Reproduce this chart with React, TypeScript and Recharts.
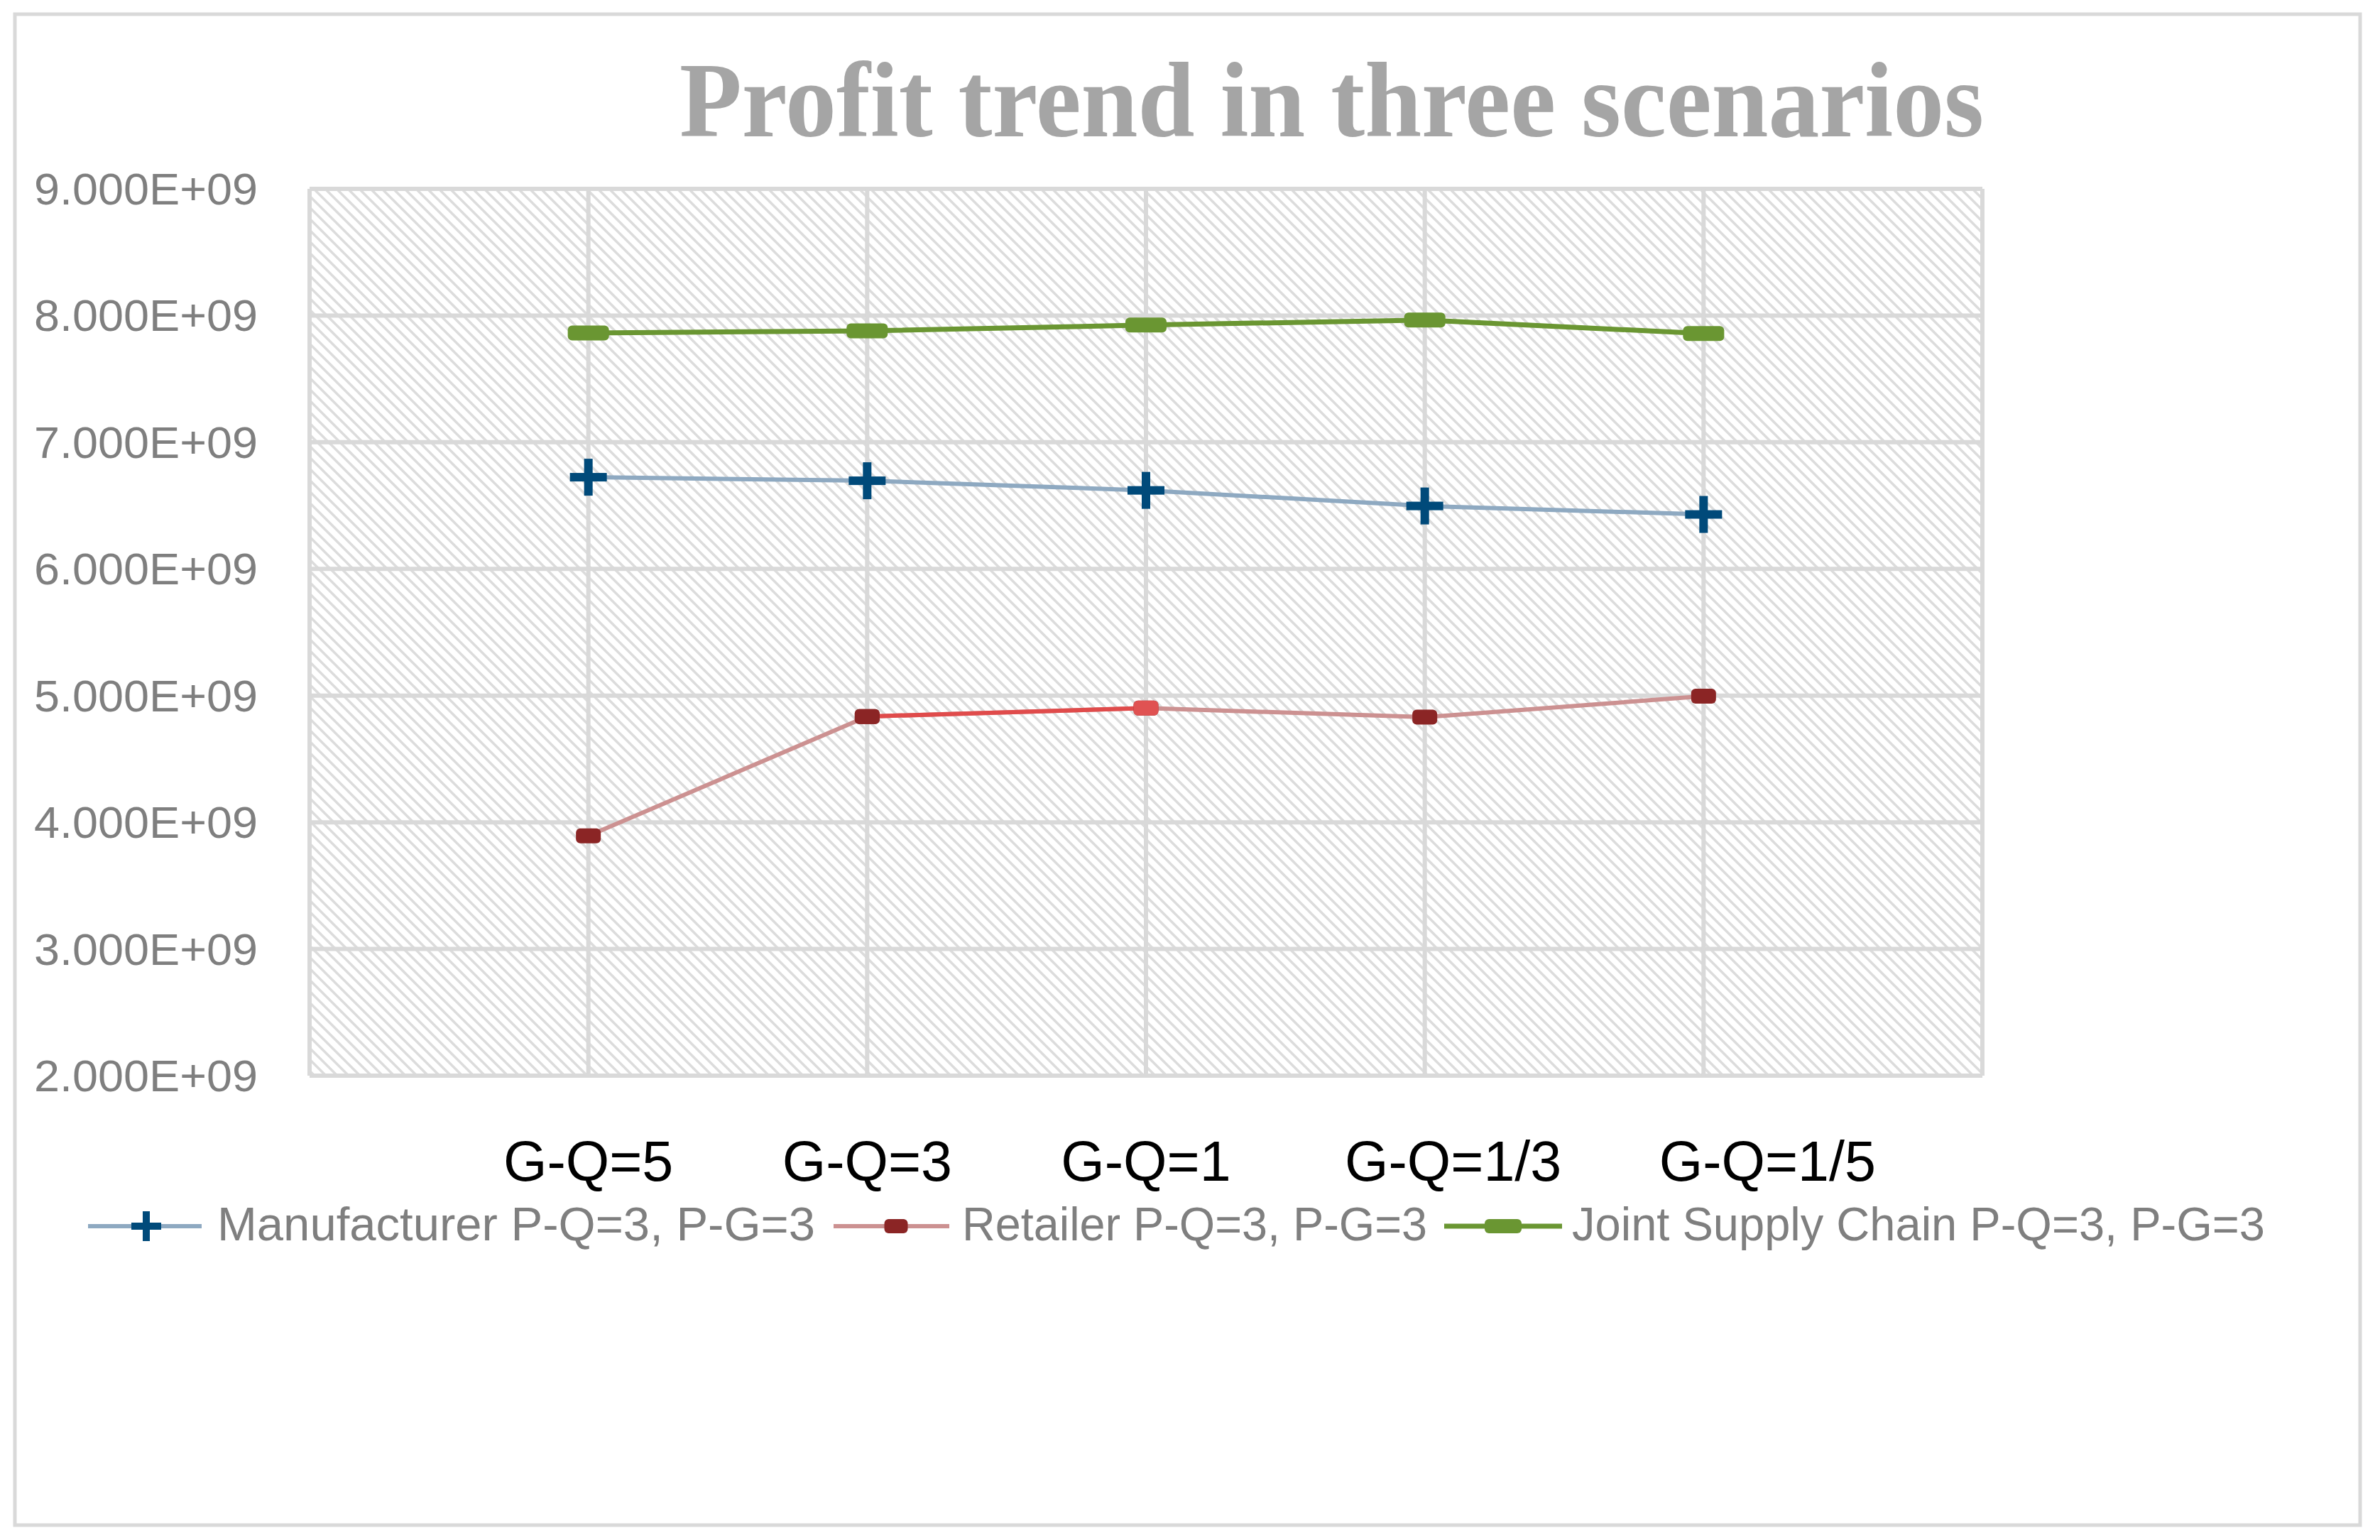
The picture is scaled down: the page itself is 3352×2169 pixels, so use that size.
import React from 'react'
import { LineChart, Line, XAxis, YAxis, CartesianGrid } from 'recharts'

const CATEGORIES = ['G-Q=5', 'G-Q=3', 'G-Q=1', 'G-Q=1/3', 'G-Q=1/5']
const MANUFACTURER = [6.724e9, 6.696e9, 6.62e9, 6.497e9, 6.43e9]
const RETAILER = [3.893e9, 4.835e9, 4.902e9, 4.83e9, 4.995e9]
const JOINT = [7.862e9, 7.879e9, 7.925e9, 7.964e9, 7.858e9]
const Y_TICKS = [2e9, 3e9, 4e9, 5e9, 6e9, 7e9, 8e9, 9e9]
const X_TICKS = [0, 1, 2, 3, 4, 5, 6]
const SERIES_NAMES = [
  'Manufacturer P-Q=3, P-G=3',
  'Retailer P-Q=3, P-G=3',
  'Joint Supply Chain P-Q=3, P-G=3'
]

const W = 3352
const H = 2169
const SANS = '"Liberation Sans", Arial, sans-serif'
const SERIF = '"Liberation Serif", "Times New Roman", serif'

const C_MAN_LINE = '#8EA9C1'
const C_MAN_MARK = '#004A7A'
const C_RET_LINE = '#CC9191'
const C_RET_MARK = '#8B2525'
const C_RET_HI = '#E04B4B'
const C_JOINT = '#6A9632'

// excel nudged the last two category labels to the right
const X_LABEL_SHIFT = [0, 0, 0, 40, 90]

// retailer segment 2->3 is drawn in a brighter red in the original
const retailerHi = RETAILER.map((v, i) => (i === 1 || i === 2 ? v : null))

const data = CATEGORIES.map((name, i) => ({
  x: i + 1,
  name,
  manufacturer: MANUFACTURER[i],
  retailer: RETAILER[i],
  retailerHi: retailerHi[i],
  joint: JOINT[i]
}))

const fmtY = (v: number) => `${(v / 1e9).toFixed(3)}E+09`

const YTick = (props: any) => {
  const { x, y, payload } = props
  return (
    <text
      x={x - 388}
      y={y + 22}
      textAnchor="start"
      fontSize={63}
      fill="#7F7F7F"
      fontFamily={SANS}
      textLength={315}
      lengthAdjust="spacingAndGlyphs"
    >
      {fmtY(payload.value)}
    </text>
  )
}

const XTick = (props: any) => {
  const { x, y, payload } = props
  const idx = payload.value - 1
  if (idx < 0 || idx >= CATEGORIES.length) return <g />
  return (
    <text x={x + X_LABEL_SHIFT[idx]} y={y + 148} textAnchor="middle" fontSize={79} fill="#000" fontFamily={SANS}>
      {CATEGORIES[idx]}
    </text>
  )
}

const plus = (cx: number, cy: number, size: number, thick: number, key?: string) => (
  <g key={key}>
    <rect x={cx - size / 2} y={cy - thick / 2} width={size} height={thick} fill={C_MAN_MARK} />
    <rect x={cx - thick / 2} y={cy - size / 2} width={thick} height={size} fill={C_MAN_MARK} />
  </g>
)

const roundRect = (cx: number, cy: number, w: number, h: number, fill: string, key?: string) => (
  <rect key={key} x={cx - w / 2} y={cy - h / 2} width={w} height={h} rx={6} ry={6} fill={fill} />
)

const ManDot = (props: any) => {
  const { cx, cy, index } = props
  if (cx == null || cy == null) return <g key={`m-${index}`} />
  return plus(cx, cy, 52, 12, `m-${index}`)
}

const RetDot = (props: any) => {
  const { cx, cy, index } = props
  if (cx == null || cy == null) return <g key={`r-${index}`} />
  return roundRect(cx, cy, 35, 21, C_RET_MARK, `r-${index}`)
}

const RetHiDot = (props: any) => {
  const { cx, cy, index } = props
  if (cx == null || cy == null || (index !== 1 && index !== 2)) return <g key={`rh-${index}`} />
  return roundRect(cx, cy, 35, 21, index === 2 ? '#E05252' : C_RET_MARK, `rh-${index}`)
}

const JointDot = (props: any) => {
  const { cx, cy, index } = props
  if (cx == null || cy == null) return <g key={`j-${index}`} />
  return roundRect(cx, cy, 58, 21, C_JOINT, `j-${index}`)
}

export default function App() {
  const legendY = 1727
  const legendBase = 1747
  return (
    <div style={{ position: 'absolute', left: 0, top: 0, width: W, height: H, background: '#fff' }}>
      <LineChart
        width={W}
        height={H}
        data={data}
        margin={{ top: 266, right: 560, bottom: 554, left: 36 }}
      >
        <defs>
          <pattern id="hatch" patternUnits="userSpaceOnUse" width={16} height={16}>
            <rect width={16} height={16} fill="#fff" />
            <path d="M0,0 L16,16 M-4,12 L4,20 M12,-4 L20,4" stroke="#DCDCDC" strokeWidth={3.5} />
          </pattern>
        </defs>
        <CartesianGrid stroke="#D9D9D9" strokeWidth={6} fill="url(#hatch)" fillOpacity={1} />
        <XAxis
          dataKey="x"
          type="number"
          domain={[0, 6]}
          ticks={X_TICKS}
          axisLine={false}
          tickLine={false}
          tickSize={0}
          tickMargin={0}
          height={100}
          interval={0}
          tick={<XTick />}
        />
        <YAxis
          type="number"
          domain={[2e9, 9e9]}
          ticks={Y_TICKS}
          axisLine={false}
          tickLine={false}
          tickSize={0}
          tickMargin={0}
          width={400}
          interval={0}
          tick={<YTick />}
        />
        <Line
          dataKey="manufacturer"
          stroke={C_MAN_LINE}
          strokeWidth={6}
          dot={(p: any) => <ManDot key={`m-${p.index}`} {...p} />}
          activeDot={false}
          isAnimationActive={false}
        />
        <Line
          dataKey="retailer"
          stroke={C_RET_LINE}
          strokeWidth={6}
          dot={(p: any) => <RetDot key={`r-${p.index}`} {...p} />}
          activeDot={false}
          isAnimationActive={false}
        />
        <Line
          dataKey="retailerHi"
          stroke={C_RET_HI}
          strokeWidth={6}
          connectNulls={false}
          legendType="none"
          dot={(p: any) => <RetHiDot key={`rh-${p.index}`} {...p} />}
          activeDot={false}
          isAnimationActive={false}
        />
        <Line
          dataKey="joint"
          stroke={C_JOINT}
          strokeWidth={7}
          dot={(p: any) => <JointDot key={`j-${p.index}`} {...p} />}
          activeDot={false}
          isAnimationActive={false}
        />
      </LineChart>
      <svg
        width={W}
        height={H}
        style={{ position: 'absolute', left: 0, top: 0, pointerEvents: 'none' }}
      >
        <rect x={21} y={20} width={3303} height={2128} fill="none" stroke="#D9D9D9" strokeWidth={5} />
        <text
          x={957}
          y={192}
          fontSize={150}
          fontWeight="bold"
          fontFamily={SERIF}
          fill="#A5A5A5"
          textLength={1837}
          lengthAdjust="spacingAndGlyphs"
        >
          Profit trend in three scenarios
        </text>

        <line x1={124} x2={284} y1={legendY} y2={legendY} stroke={C_MAN_LINE} strokeWidth={6} />
        {plus(206, legendY, 42, 10)}
        <text x={306} y={legendBase} fontSize={66} fill="#7F7F7F" fontFamily={SANS} textLength={842} lengthAdjust="spacingAndGlyphs">
          {SERIES_NAMES[0]}
        </text>

        <line x1={1174} x2={1337} y1={legendY} y2={legendY} stroke={C_RET_LINE} strokeWidth={6} />
        {roundRect(1262, legendY, 33, 20, C_RET_MARK)}
        <text x={1355} y={legendBase} fontSize={66} fill="#7F7F7F" fontFamily={SANS} textLength={655} lengthAdjust="spacingAndGlyphs">
          {SERIES_NAMES[1]}
        </text>

        <line x1={2034} x2={2200} y1={legendY} y2={legendY} stroke={C_JOINT} strokeWidth={7} />
        {roundRect(2117, legendY, 52, 20, C_JOINT)}
        <text x={2214} y={legendBase} fontSize={66} fill="#7F7F7F" fontFamily={SANS} textLength={976} lengthAdjust="spacingAndGlyphs">
          {SERIES_NAMES[2]}
        </text>
      </svg>
    </div>
  )
}
